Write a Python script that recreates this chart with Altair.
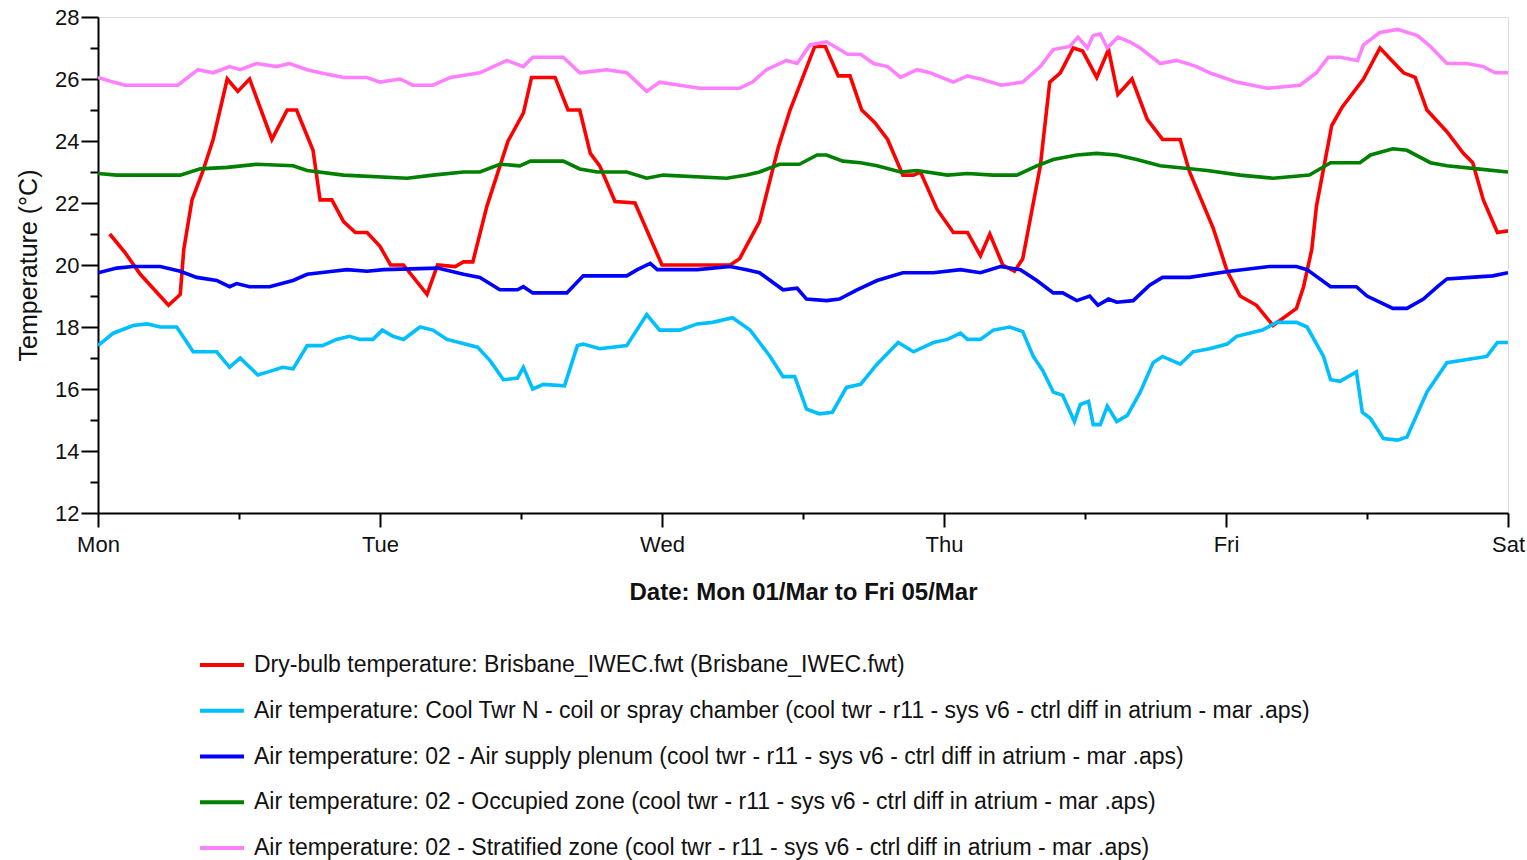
import json

import altair as alt
import pandas as pd

# Hourly temperature traces for the week, hour 0 = Monday 00:00
day_names = ["Mon", "Tue", "Wed", "Thu", "Fri", "Sat"]

series_names = [
    "Dry-bulb temperature: Brisbane_IWEC.fwt (Brisbane_IWEC.fwt)",
    "Air temperature: Cool Twr N - coil or spray chamber (cool twr - r11 - sys v6 - ctrl diff in atrium - mar .aps)",
    "Air temperature: 02 - Air supply plenum (cool twr - r11 - sys v6 - ctrl diff in atrium - mar .aps)",
    "Air temperature: 02 - Occupied zone (cool twr - r11 - sys v6 - ctrl diff in atrium - mar .aps)",
    "Air temperature: 02 - Stratified zone (cool twr - r11 - sys v6 - ctrl diff in atrium - mar .aps)",
]
series_colors = ["#ff0000", "#00bfff", "#0000ff", "#008000", "#ff80ff"]

drybulb_hours = [1.0, 2.3, 3.6, 6.0, 7.0, 7.3, 8.0, 8.9, 9.8, 11.0, 11.9, 12.9, 14.8, 16.1, 16.9,
                 18.3, 18.9, 19.9, 20.9, 21.9, 22.9, 24.0, 24.9, 26.0, 28.0, 28.9, 30.4, 31.1, 31.9,
                 33.1, 34.9, 36.2, 36.9, 38.9, 40.0, 41.0, 41.9, 42.7, 44.0, 45.7, 48.0, 50.6, 53.8,
                 54.6, 56.3, 57.9, 58.9, 61.0, 61.9, 63.0, 64.0, 65.0, 66.1, 67.2, 68.5, 69.4, 70.0,
                 71.4, 72.8, 74.0, 75.1, 75.9, 77.0, 78.0, 78.7, 80.2, 81.0, 81.9, 83.0, 83.8, 85.0,
                 86.0, 86.8, 88.0, 89.3, 90.6, 92.1, 92.9, 94.9, 96.1, 97.2, 98.6, 100.0, 102.0, 102.6,
                 103.3, 103.7, 105.0, 105.9, 107.7, 109.1, 110.6, 111.1, 112.1, 113.1, 114.8, 116.2,
                 117.0, 117.9, 119.1, 120.0]
drybulb_temps = [21.0, 20.4, 19.7, 18.7, 19.05, 20.5, 22.1, 23.0, 24.05, 26.0, 25.6, 26.0, 24.05, 25.0,
                 25.0, 23.7, 22.1, 22.1, 21.4, 21.05, 21.05, 20.6, 20.0, 20.0, 19.05, 20.0, 19.95, 20.1,
                 20.1, 21.9, 24.0, 24.9, 26.05, 26.05, 25.0, 25.0, 23.6, 23.2, 22.05, 22.0, 20.0, 20.0,
                 20.0, 20.2, 21.4, 23.8, 25.0, 27.05, 27.05, 26.1, 26.1, 25.0, 24.6, 24.05, 22.9, 22.9,
                 23.0, 21.8, 21.05, 21.05, 20.3, 21.0, 20.0, 19.8, 20.2, 23.2, 25.9, 26.2, 27.0, 26.9,
                 26.05, 26.95, 25.5, 26.0, 24.7, 24.05, 24.05, 23.0, 21.2, 19.8, 19.0, 18.7, 18.05, 18.6,
                 19.3, 20.5, 21.9, 24.5, 25.1, 26.0, 27.0, 26.4, 26.2, 26.05, 25.0, 24.3, 23.6, 23.3,
                 22.1, 21.05, 21.1]

cooltwr_hours = [0.0, 1.3, 3.0, 4.2, 5.3, 6.7, 8.1, 10.1, 11.2, 12.1, 13.6, 14.9, 15.7, 16.6, 17.8,
                 19.1, 20.3, 21.4, 22.3, 23.4, 24.2, 25.1, 26.0, 27.4, 28.5, 29.7, 32.3, 33.4, 34.5,
                 35.7, 36.2, 37.0, 37.9, 39.7, 40.8, 41.3, 42.7, 45.0, 46.7, 47.8, 49.5, 51.0, 52.3,
                 54.0, 55.5, 56.3, 57.2, 58.3, 59.3, 60.3, 61.4, 62.5, 63.7, 64.9, 66.3, 68.1, 69.4,
                 71.1, 72.3, 73.4, 74.0, 75.1, 76.2, 77.6, 78.7, 79.6, 80.4, 81.3, 82.1, 83.1, 83.6,
                 84.3, 84.7, 85.3, 85.9, 86.7, 87.6, 88.7, 89.8, 90.6, 92.1, 93.2, 94.6, 96.1, 96.9,
                 99.1, 100.3, 102.0, 102.9, 104.3, 104.9, 105.7, 107.1, 107.6, 108.3, 109.4, 110.6,
                 111.4, 113.1, 114.8, 118.2, 119.1, 120.0]
cooltwr_temps = [17.4, 17.8, 18.05, 18.1, 18.0, 18.0, 17.2, 17.2, 16.7, 17.0, 16.45, 16.6, 16.7, 16.65,
                 17.4, 17.4, 17.6, 17.7, 17.6, 17.6, 17.9, 17.7, 17.6, 18.0, 17.9, 17.6, 17.35, 16.9,
                 16.3, 16.35, 16.7, 16.0, 16.15, 16.1, 17.4, 17.45, 17.3, 17.4, 18.4, 17.9, 17.9, 18.1,
                 18.15, 18.3, 17.9, 17.5, 17.05, 16.4, 16.4, 15.35, 15.2, 15.25, 16.05, 16.15, 16.8,
                 17.5, 17.2, 17.5, 17.6, 17.8, 17.6, 17.6, 17.9, 18.0, 17.85, 17.05, 16.6, 15.9, 15.8,
                 14.95, 15.5, 15.6, 14.85, 14.85, 15.45, 14.95, 15.15, 15.9, 16.85, 17.05, 16.8, 17.2,
                 17.3, 17.45, 17.7, 17.9, 18.15, 18.15, 18.0, 17.05, 16.3, 16.25, 16.55, 15.25, 15.05,
                 14.4, 14.35, 14.45, 15.9, 16.85, 17.05, 17.5, 17.5]

plenum_hours = [0.0, 1.6, 3.0, 5.3, 7.0, 8.4, 10.1, 11.2, 11.8, 12.9, 14.6, 16.6, 17.8, 20.0, 21.2,
                22.9, 24.3, 28.9, 31.1, 32.5, 34.2, 35.7, 36.2, 37.0, 39.9, 41.3, 45.0, 45.9, 47.0,
                47.6, 51.0, 53.8, 55.2, 56.3, 58.3, 59.5, 60.3, 62.0, 63.1, 64.6, 66.3, 68.5, 71.1,
                73.4, 75.1, 76.8, 78.5, 79.9, 81.3, 82.1, 83.3, 84.4, 85.1, 86.0, 86.7, 88.1, 89.5,
                90.6, 92.9, 96.3, 99.7, 102.0, 102.9, 104.9, 107.1, 108.0, 110.2, 111.4, 112.8,
                114.0, 114.8, 116.8, 118.7, 120.0]
plenum_temps = [19.75, 19.9, 19.95, 19.95, 19.8, 19.6, 19.5, 19.3, 19.4, 19.3, 19.3, 19.5, 19.7, 19.8,
                19.85, 19.8, 19.85, 19.9, 19.7, 19.6, 19.2, 19.2, 19.3, 19.1, 19.1, 19.65, 19.65,
                19.85, 20.05, 19.85, 19.85, 19.95, 19.85, 19.75, 19.2, 19.25, 18.9, 18.85, 18.9,
                19.2, 19.5, 19.75, 19.75, 19.85, 19.75, 19.95, 19.85, 19.5, 19.1, 19.1, 18.85, 19.0,
                18.7, 18.9, 18.8, 18.85, 19.35, 19.6, 19.6, 19.8, 19.95, 19.95, 19.85, 19.3, 19.3,
                19.0, 18.6, 18.6, 18.9, 19.3, 19.55, 19.6, 19.65, 19.75]

occupied_hours = [0.0, 1.6, 7.0, 8.7, 11.0, 13.5, 16.6, 17.8, 20.9, 26.3, 28.5, 31.1, 32.5, 34.2,
                  35.9, 36.8, 39.6, 41.0, 42.5, 45.0, 46.7, 48.1, 53.5, 55.2, 56.3, 58.0, 59.7, 61.2,
                  62.0, 63.4, 64.9, 66.3, 68.3, 69.7, 72.3, 74.0, 76.2, 78.2, 79.9, 81.3, 83.3, 85.0,
                  86.7, 88.4, 90.4, 94.4, 97.2, 100.0, 103.1, 104.9, 107.4, 108.3, 110.2, 111.4,
                  113.4, 114.8, 117.4, 120.0]
occupied_temps = [22.95, 22.9, 22.9, 23.1, 23.15, 23.25, 23.2, 23.05, 22.9, 22.8, 22.9, 23.0, 23.0,
                  23.25, 23.2, 23.35, 23.35, 23.1, 23.0, 23.0, 22.8, 22.9, 22.8, 22.9, 23.0, 23.25,
                  23.25, 23.55, 23.55, 23.35, 23.3, 23.2, 23.0, 23.05, 22.9, 22.95, 22.9, 22.9, 23.2,
                  23.4, 23.55, 23.6, 23.55, 23.4, 23.2, 23.05, 22.9, 22.8, 22.9, 23.3, 23.3, 23.55,
                  23.75, 23.7, 23.3, 23.2, 23.1, 23.0]

stratified_hours = [0.0, 1.3, 2.3, 6.8, 8.5, 9.8, 11.2, 12.1, 13.5, 15.2, 16.3, 17.8, 18.9, 20.9,
                    22.9, 24.0, 25.7, 26.8, 28.5, 30.0, 32.5, 34.8, 36.2, 37.0, 39.6, 41.0, 43.3,
                    45.0, 46.7, 47.8, 49.5, 51.2, 54.6, 55.7, 56.9, 58.6, 59.5, 60.6, 62.0, 63.8,
                    64.9, 66.0, 67.2, 68.3, 69.7, 70.8, 72.8, 74.0, 75.1, 76.9, 78.7, 80.2, 81.3,
                    82.7, 83.4, 84.2, 84.7, 85.3, 85.9, 86.8, 87.8, 88.7, 90.4, 91.8, 93.5, 94.6,
                    96.9, 99.5, 102.3, 103.7, 104.7, 105.7, 107.2, 107.7, 109.1, 110.6, 112.3, 113.4,
                    114.8, 116.5, 117.9, 118.9, 120.0]
stratified_temps = [26.05, 25.9, 25.8, 25.8, 26.3, 26.2, 26.4, 26.3, 26.5, 26.4, 26.5, 26.3, 26.2,
                    26.05, 26.05, 25.9, 26.0, 25.8, 25.8, 26.05, 26.2, 26.6, 26.4, 26.7, 26.7, 26.2,
                    26.3, 26.2, 25.6, 25.9, 25.8, 25.7, 25.7, 25.9, 26.3, 26.6, 26.5, 27.1, 27.2,
                    26.8, 26.8, 26.5, 26.4, 26.05, 26.3, 26.2, 25.9, 26.1, 26.0, 25.8, 25.9, 26.4,
                    26.95, 27.05, 27.35, 27.0, 27.4, 27.45, 27.0, 27.35, 27.2, 27.0, 26.5, 26.6, 26.4,
                    26.2, 25.9, 25.7, 25.8, 26.2, 26.7, 26.7, 26.6, 27.1, 27.5, 27.6, 27.4, 27.05,
                    26.5, 26.5, 26.4, 26.2, 26.2]

y_ticks = list(range(12, 29))
x_ticks = list(range(0, 121, 12))

frames = []
for name, hours, temps in zip(
    series_names,
    [drybulb_hours, cooltwr_hours, plenum_hours, occupied_hours, stratified_hours],
    [drybulb_temps, cooltwr_temps, plenum_temps, occupied_temps, stratified_temps],
):
    frames.append(pd.DataFrame({"hour": hours, "temp": temps, "series": name}))
data = pd.concat(frames, ignore_index=True)

FONT = "Liberation Sans"
INK = "#111111"

day_expr = (
    "datum.value % 24 === 0 ? " + json.dumps(day_names) + "[datum.value / 24] : ''"
)

x_axis = alt.Axis(
    values=x_ticks,
    labelExpr=day_expr,
    title="Date: Mon 01/Mar to Fri 05/Mar",
    titleFont=FONT,
    titleFontSize=24,
    titleFontWeight="bold",
    titleColor=INK,
    titlePadding=25,
    labelFont=FONT,
    labelFontSize=22,
    labelColor=INK,
    labelPadding=7,
    labelOverlap=False,
    labelFlush=False,
    tickSize={"condition": {"test": "datum.value % 24 === 0", "value": 14}, "value": 6},
    tickColor="#000000",
    tickWidth=2,
    domainColor="#000000",
    domainWidth=2,
    grid=False,
)

y_axis = alt.Axis(
    values=y_ticks,
    labelExpr="datum.value % 2 === 0 ? datum.label : ''",
    title="Temperature (°C)",
    titleFont=FONT,
    titleFontSize=25,
    titleFontWeight="normal",
    titleColor=INK,
    titlePadding=13,
    labelFont=FONT,
    labelFontSize=22,
    labelColor=INK,
    labelPadding=2,
    labelOverlap=False,
    labelFlush=False,
    tickSize={"condition": {"test": "datum.value % 2 === 0", "value": 17}, "value": 8},
    tickColor="#000000",
    tickWidth=2,
    domainColor="#000000",
    domainWidth=2,
    grid=False,
)

legend = alt.Legend(
    title=None,
    orient="none",
    legendX=100,
    legendY=624,
    direction="vertical",
    symbolType="stroke",
    symbolSize=1936,
    symbolStrokeWidth=4,
    labelFont=FONT,
    labelFontSize=23,
    labelColor=INK,
    labelLimit=0,
    labelOffset=8,
    rowPadding=9.75,
    padding=0,
)

chart = (
    alt.Chart(data)
    .mark_line(strokeWidth=3.6, clip=True)
    .encode(
        x=alt.X("hour:Q", scale=alt.Scale(domain=[0, 120], nice=False, zero=False), axis=x_axis),
        y=alt.Y("temp:Q", scale=alt.Scale(domain=[12, 28], nice=False, zero=False), axis=y_axis),
        color=alt.Color(
            "series:N",
            scale=alt.Scale(domain=series_names, range=series_colors),
            legend=legend,
        ),
    )
    .properties(
        width=1410,
        height=496,
        autosize=alt.AutoSizeParams(type="none"),
        padding={"left": 98, "top": 17, "right": 19, "bottom": 347},
    )
    .configure_view(stroke=None)
    .configure(background="#ffffff")
)

chart.save("out.html", embed_options={"renderer": "svg", "actions": False})
